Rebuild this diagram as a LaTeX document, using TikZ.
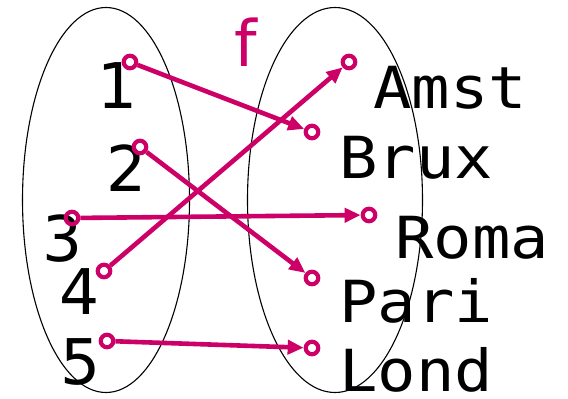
\documentclass[tikz,border=0pt]{standalone}
\usepackage{fontspec}
\setmainfont{DejaVu Sans}
\newfontfamily\citymono[FakeStretch=1.1]{DejaVu Sans Mono}
\usepackage{tikz}
\usetikzlibrary{arrows.meta,shapes.geometric}
\definecolor{mapmag}{HTML}{CC0066}

\begin{document}
\begin{tikzpicture}[x=1pt,y=-1pt,
  setell/.style={draw,line width=1.1pt,ellipse,inner sep=0pt},
  elt/.style={font=\fontsize{63}{63}\selectfont,inner sep=0pt},
  city/.style={font=\citymono\fontsize{58}{58}\selectfont,inner sep=0pt,anchor=base west},
  dot/.style={circle,draw=mapmag,line width=4.2pt,minimum size=12.5pt,inner sep=0pt},
  maparr/.style={-{Triangle[length=16pt,width=14pt]},mapmag,line width=4.6pt}]
\useasboundingbox (0,0) rectangle (568,399);
% the two sets
\node[setell,minimum width=167pt,minimum height=385pt](dom) at (106,200){};
\node[setell,minimum width=175pt,minimum height=385pt](cod) at (335,200){};
\node[font=\fontsize{64}{64}\selectfont,text=mapmag,inner sep=0pt](fname) at (246,42){f};
% elements
\node[elt](n1) at (118,86){1};
\node[elt](n2) at (127,168){2};
\node[elt](n3) at (63,239){3};
\node[elt](n4) at (80,292){4};
\node[elt](n5) at (81,362){5};
\node[city](amst) at (373,108){Amst};
\node[city](brux) at (339,178){Brux};
\node[city](roma) at (395,258){Roma};
\node[city](pari) at (339,322){Pari};
\node[city](lond) at (339,391){Lond};
% points
\node[dot](s1) at (130,62){};
\node[dot](s2) at (140,147){};
\node[dot](s3) at (72,218){};
\node[dot](s4) at (104,271){};
\node[dot](s5) at (107,341){};
\node[dot](tAmst) at (349,62){};
\node[dot](tBrux) at (312,132){};
\node[dot](tRoma) at (369,215){};
\node[dot](tPari) at (312,278){};
\node[dot](tLond) at (312,348){};
% the map
\draw[maparr](s1)--(tBrux);
\draw[maparr](s2)--(tPari);
\draw[maparr](s3)--(tRoma);
\draw[maparr](s4)--(tAmst);
\draw[maparr](s5)--(tLond);
\end{tikzpicture}
\end{document}
